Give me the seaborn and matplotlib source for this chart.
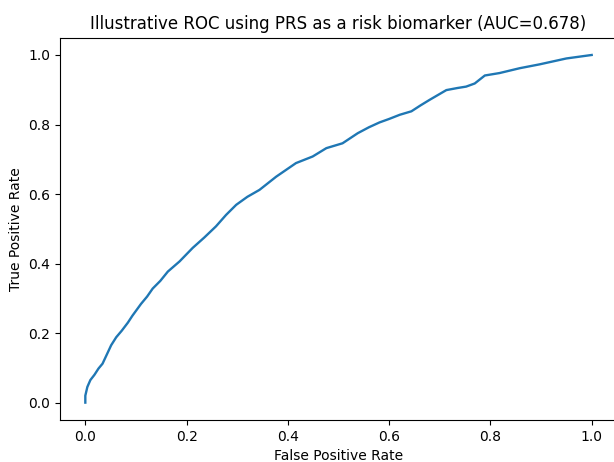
import numpy as np
import pandas as pd
import seaborn as sns
import matplotlib
matplotlib.use("Agg")
import matplotlib.pyplot as plt

# ROC points
fpr = [0.0, 0.0, 0.004, 0.010, 0.018, 0.026, 0.034, 0.043, 0.051, 0.061,
       0.072, 0.084, 0.093, 0.110, 0.122, 0.133, 0.148, 0.163, 0.186, 0.212,
       0.235, 0.258, 0.278, 0.298, 0.320, 0.344, 0.377, 0.416, 0.449, 0.476,
       0.508, 0.538, 0.560, 0.581, 0.600, 0.621, 0.644, 0.662, 0.680, 0.713,
       0.735, 0.752, 0.769, 0.789, 0.818, 0.858, 0.897, 0.950, 1.0]
tpr = [0.0, 0.020, 0.045, 0.065, 0.080, 0.098, 0.112, 0.140, 0.165, 0.188,
       0.207, 0.230, 0.250, 0.284, 0.305, 0.328, 0.350, 0.377, 0.406, 0.445,
       0.475, 0.507, 0.540, 0.569, 0.592, 0.612, 0.650, 0.689, 0.708, 0.732,
       0.746, 0.775, 0.792, 0.806, 0.816, 0.828, 0.838, 0.855, 0.871, 0.899,
       0.905, 0.909, 0.918, 0.941, 0.948, 0.962, 0.973, 0.990, 1.0]
auc = 0.678

df = pd.DataFrame({"fpr": fpr, "tpr": tpr})

fig = plt.figure(figsize=(6.14, 4.62), dpi=100)
ax = fig.add_axes([60 / 614, 42 / 462, 557 / 614, 382.4 / 462])
sns.lineplot(data=df, x="fpr", y="tpr", ax=ax, sort=False, estimator=None,
             color="#1f77b4", linewidth=1.7)
ax.set_xlim(-0.05, 1.05)
ax.set_ylim(-0.05, 1.05)
ax.set_xticks([0.0, 0.2, 0.4, 0.6, 0.8, 1.0])
ax.set_yticks([0.0, 0.2, 0.4, 0.6, 0.8, 1.0])
ax.set_xlabel("False Positive Rate")
ax.set_ylabel("True Positive Rate")
ax.set_title(f"Illustrative ROC using PRS as a risk biomarker (AUC={auc:.3f})", fontsize=12)

fig.savefig("out.png", dpi=100)
